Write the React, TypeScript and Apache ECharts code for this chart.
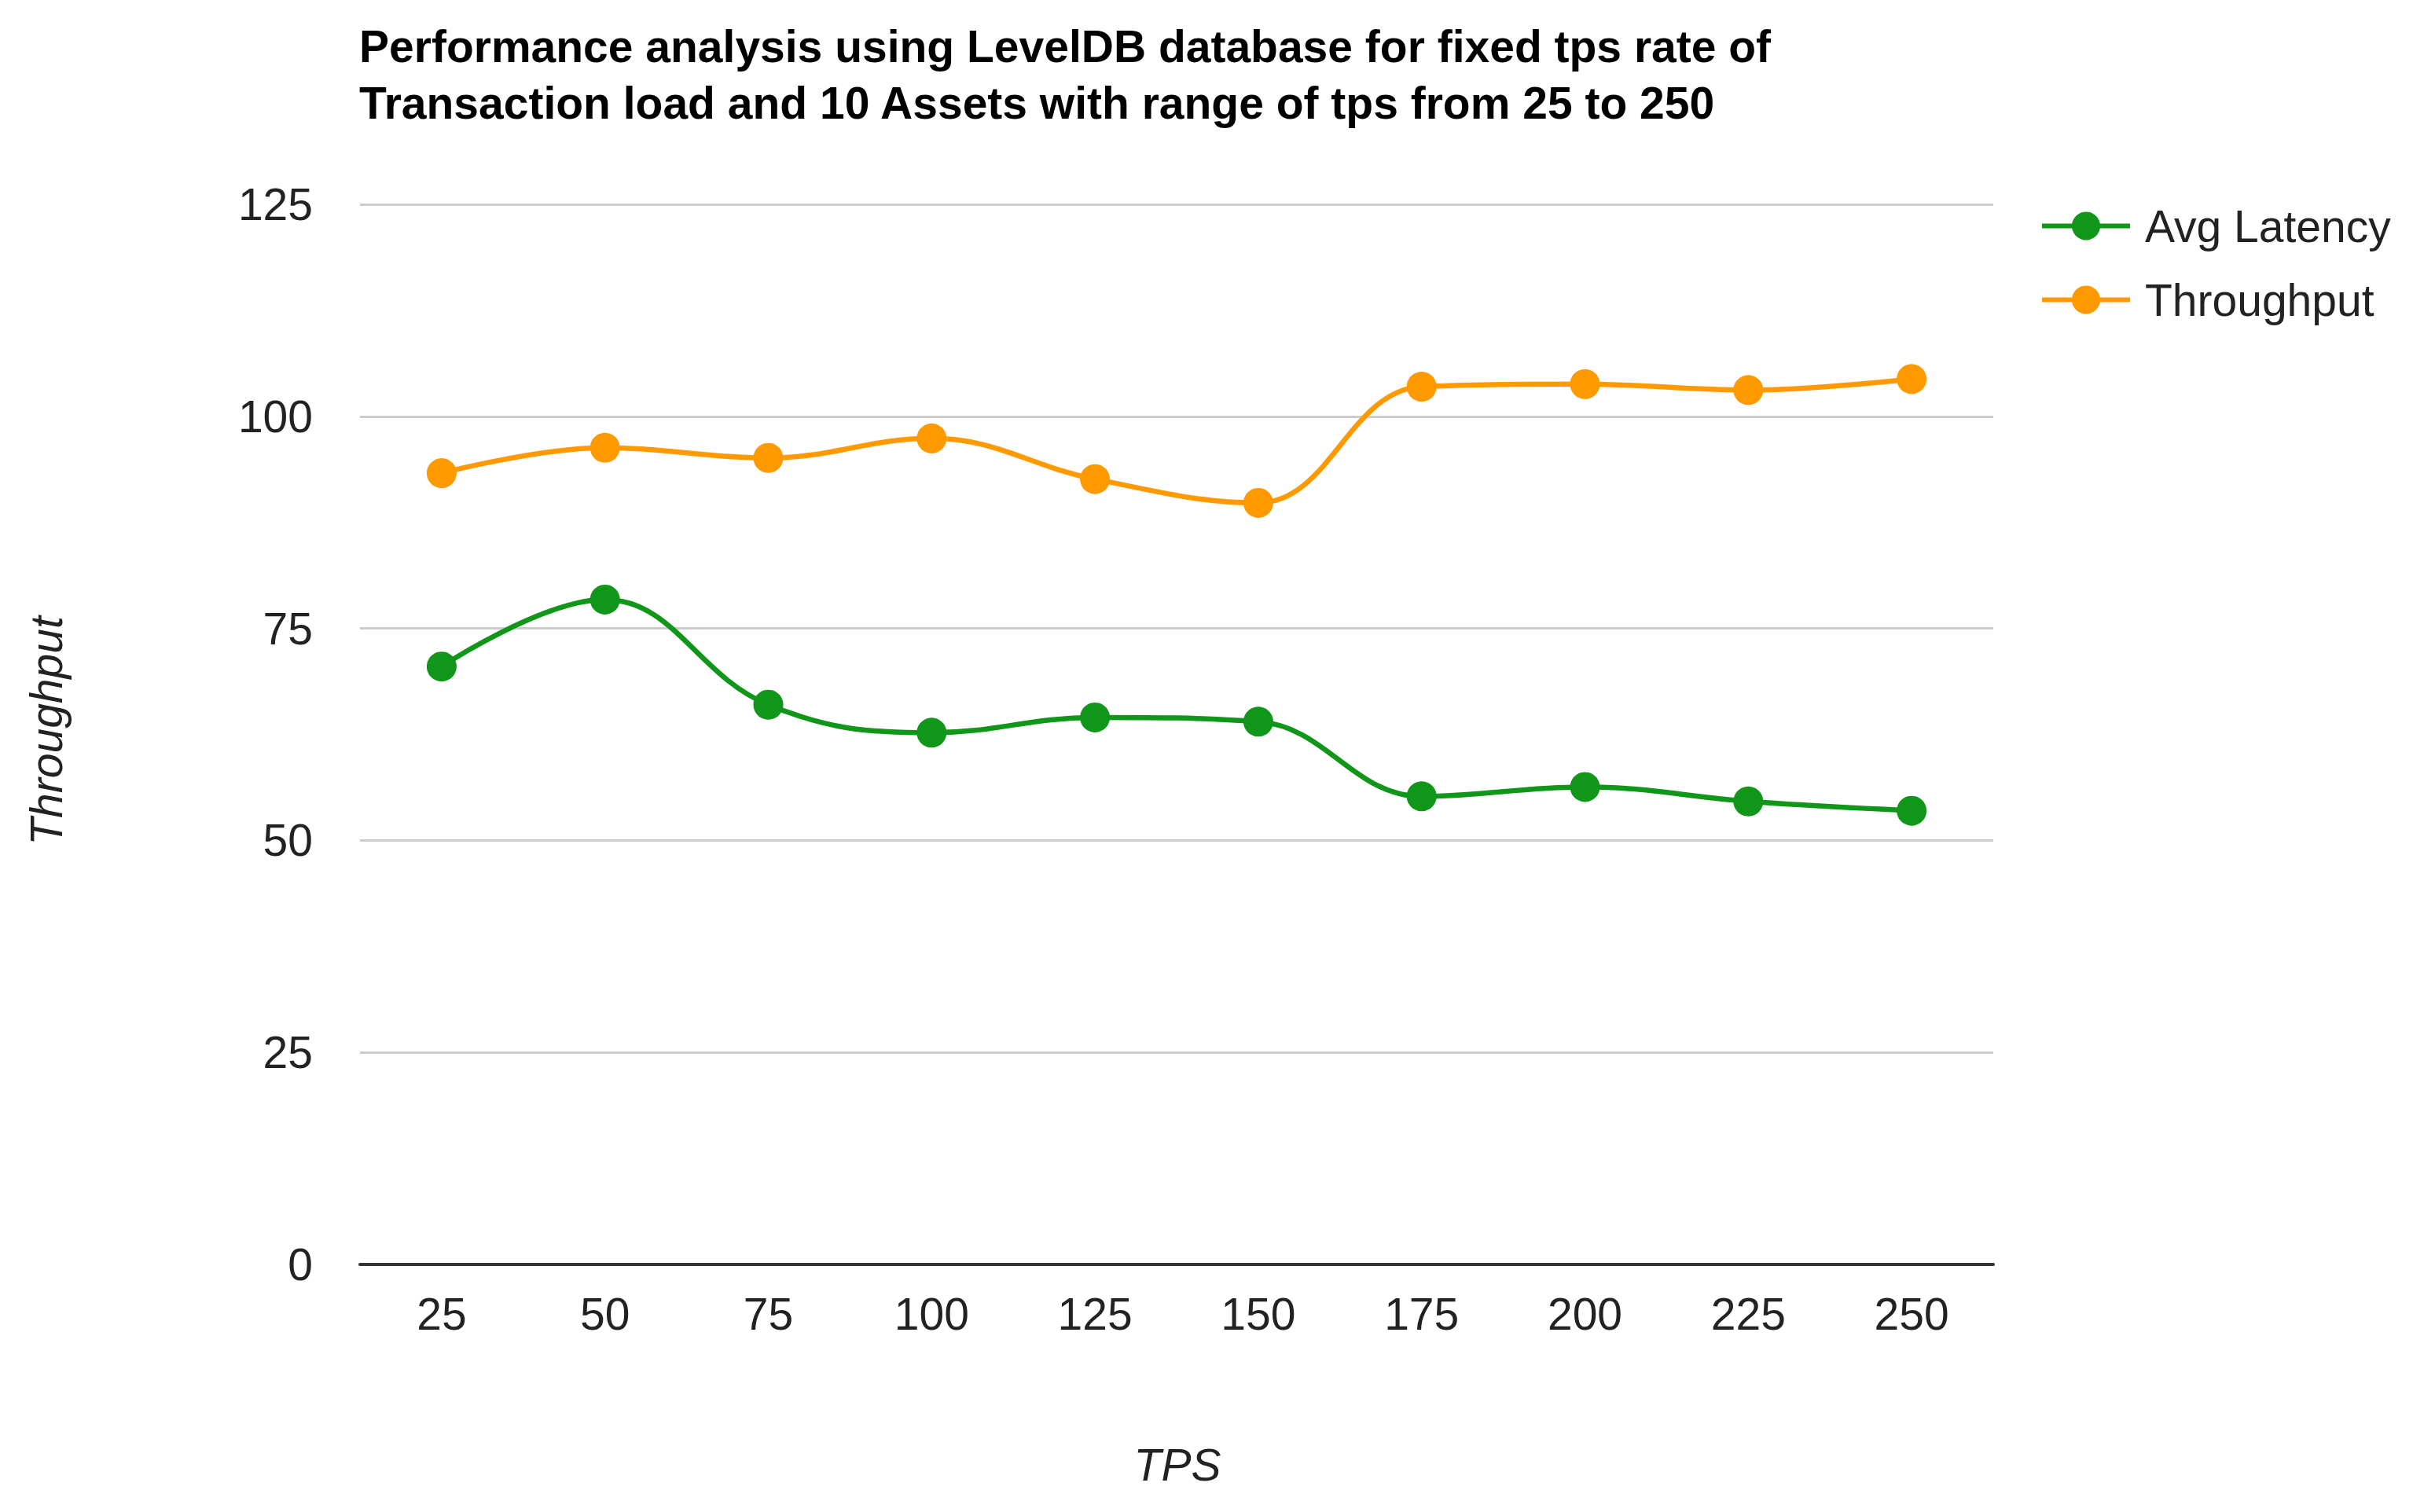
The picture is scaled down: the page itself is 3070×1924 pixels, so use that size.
import React, { useEffect, useRef } from "react";
import * as echarts from "echarts";

const categories = ["25", "50", "75", "100", "125", "150", "175", "200", "225", "250"];
const avgLatency = [70.5, 78.4, 66.0, 62.7, 64.5, 64.0, 55.2, 56.3, 54.6, 53.5];
const throughput = [93.3, 96.3, 95.1, 97.4, 92.6, 89.8, 103.5, 103.8, 103.1, 104.4];
const yTicks = { min: 0, max: 125, interval: 25 };
const titleText =
  "Performance analysis using LevelDB database for fixed tps rate of\nTransaction load and 10 Assets with range of tps from 25 to 250";

const FONT = "'Liberation Sans', Arial, Helvetica, sans-serif";
const FS = 57;

const legendCommon = {
  orient: "vertical",
  left: 2590,
  itemWidth: 112,
  itemHeight: 45,
  lineStyle: { width: 6 },
  textStyle: { fontFamily: FONT, fontSize: FS, color: "#222222", padding: [0, 0, 0, 14] },
};

export default function App() {
  const ref = useRef<HTMLDivElement>(null);
  useEffect(() => {
    if (!ref.current) return;
    const chart = echarts.init(ref.current, null, { renderer: "svg" });
    chart.setOption({
      animation: false,
      backgroundColor: "#ffffff",
      textStyle: { fontFamily: FONT },
      title: {
        text: titleText,
        left: 452,
        top: 18,
        textStyle: {
          fontFamily: FONT,
          fontWeight: "bold",
          fontSize: FS,
          lineHeight: 72,
          color: "#000000",
        },
      },
      legend: [
        { ...legendCommon, top: 254, data: ["Avg Latency"] },
        { ...legendCommon, top: 348, data: ["Throughput"] },
      ],
      grid: { left: 458, right: 534, top: 260, bottom: 315, containLabel: false },
      xAxis: {
        type: "category",
        data: categories,
        boundaryGap: true,
        axisLine: { show: true, lineStyle: { color: "#333333", width: 4 } },
        axisTick: { show: false },
        axisLabel: { fontFamily: FONT, fontSize: FS, color: "#222222", margin: 34 },
        splitLine: { show: false },
      },
      yAxis: {
        type: "value",
        min: yTicks.min,
        max: yTicks.max,
        interval: yTicks.interval,
        axisLine: { show: false },
        axisTick: { show: false },
        axisLabel: { fontFamily: FONT, fontSize: FS, color: "#222222", margin: 60 },
        splitLine: { show: true, lineStyle: { color: "#cccccc", width: 3 } },
      },
      graphic: [
        {
          type: "text",
          x: 59,
          y: 930,
          rotation: Math.PI / 2,
          style: {
            text: "Throughput",
            fontFamily: FONT,
            fontStyle: "italic",
            fontSize: FS,
            fill: "#222222",
            align: "center",
            verticalAlign: "middle",
          },
        },
        {
          type: "text",
          x: 1498,
          y: 1864,
          style: {
            text: "TPS",
            fontFamily: FONT,
            fontStyle: "italic",
            fontSize: FS,
            fill: "#222222",
            align: "center",
            verticalAlign: "middle",
          },
        },
      ],
      series: [
        {
          name: "Avg Latency",
          type: "line",
          data: avgLatency,
          smooth: 0.4,
          symbol: "circle",
          symbolSize: 38,
          color: "#109618",
          lineStyle: { width: 6.5, color: "#109618" },
          itemStyle: { color: "#109618" },
        },
        {
          name: "Throughput",
          type: "line",
          data: throughput,
          smooth: 0.4,
          symbol: "circle",
          symbolSize: 38,
          color: "#FF9900",
          lineStyle: { width: 6.5, color: "#FF9900" },
          itemStyle: { color: "#FF9900" },
        },
      ],
    });
    return () => chart.dispose();
  }, []);
  return (
    <div
      ref={ref}
      style={{ position: "absolute", left: 0, top: 0, width: 3070, height: 1924 }}
    />
  );
}
